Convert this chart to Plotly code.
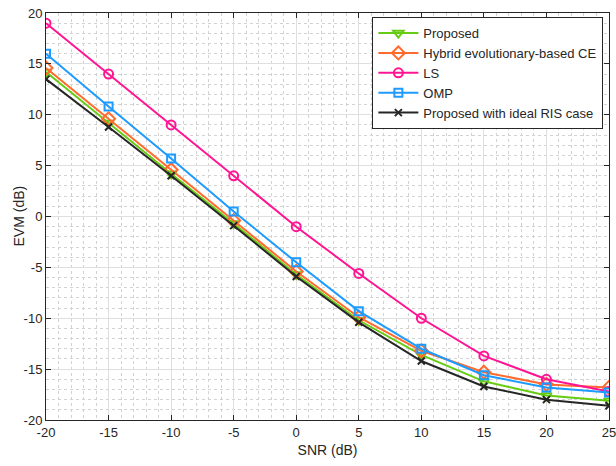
import plotly.graph_objects as go

snr = [-20, -15, -10, -5, 0, 5, 10, 15, 20, 25]
proposed = [14.2, 9.2, 4.2, -0.7, -5.7, -10.2, -13.6, -16.2, -17.6, -18.1]
hybrid = [14.6, 9.6, 4.6, -0.4, -5.4, -9.9, -13.2, -15.3, -16.5, -16.8]
ls = [19.0, 14.0, 9.0, 4.0, -1.0, -5.6, -10.0, -13.7, -16.0, -17.2]
omp = [16.0, 10.8, 5.7, 0.5, -4.5, -9.3, -13.0, -15.6, -16.8, -17.3]
ideal = [13.5, 8.8, 4.0, -0.9, -5.9, -10.4, -14.2, -16.7, -18.0, -18.6]

x_ticks = [-20, -15, -10, -5, 0, 5, 10, 15, 20, 25]
y_ticks = [-20, -15, -10, -5, 0, 5, 10, 15, 20]

series = [
    ("Proposed", proposed, "#66CC11", "triangle-down-open", 9),
    ("Hybrid evolutionary-based CE", hybrid, "#FF6B2E", "diamond-open", 10),
    ("LS", ls, "#FF1493", "circle-open", 9),
    ("OMP", omp, "#1E9BFF", "square-open", 8),
    ("Proposed with ideal RIS case", ideal, "#262626", "x-thin-open", 7),
]

fig = go.Figure()
for name, ys, col, sym, sz in series:
    fig.add_trace(go.Scatter(
        x=snr, y=ys, name=name, mode="lines+markers",
        line=dict(color=col, width=2),
        marker=dict(symbol=sym, size=sz, color=col, line=dict(color=col, width=2)),
    ))

axis_common = dict(
    showline=True, linecolor="#262626", linewidth=1, mirror="ticks",
    ticks="inside", ticklen=5, tickcolor="#262626",
    showgrid=True, gridcolor="#DFDFDF", gridwidth=1,
    zeroline=False, ticklabeloverflow="allow", automargin=False,
    tickfont=dict(family="Liberation Sans, Arial", size=13, color="#262626"),
    minor=dict(showgrid=True, gridcolor="#D2D2D2", griddash="dot", gridwidth=1, dtick=1, ticks=""),
)

fig.update_layout(
    width=616, height=466,
    margin=dict(l=46, r=7, t=13, b=46),
    paper_bgcolor="white", plot_bgcolor="white",
    font=dict(family="Liberation Sans, Arial", size=13, color="#262626"),
    xaxis=dict(range=[-20, 25], tickmode="array", tickvals=x_ticks,
               ticktext=[str(v) for v in x_ticks],
               title=dict(text="SNR (dB)", standoff=6, font=dict(size=14)), **axis_common),
    yaxis=dict(range=[-20, 20], tickmode="array", tickvals=y_ticks,
               ticktext=[str(v) for v in y_ticks], **axis_common),
    legend=dict(x=0.99, y=0.99, xanchor="right", yanchor="top",
                bgcolor="white", bordercolor="#262626", borderwidth=1,
                font=dict(size=13), tracegroupgap=0, itemwidth=40),
    showlegend=True,
    annotations=[dict(text="EVM (dB)", textangle=-90, xref="paper", yref="paper",
                      x=(18 - 46) / 563, y=0.5, xanchor="center", yanchor="middle",
                      showarrow=False, font=dict(size=14, color="#262626"))],
)

fig.write_html("out.html")
